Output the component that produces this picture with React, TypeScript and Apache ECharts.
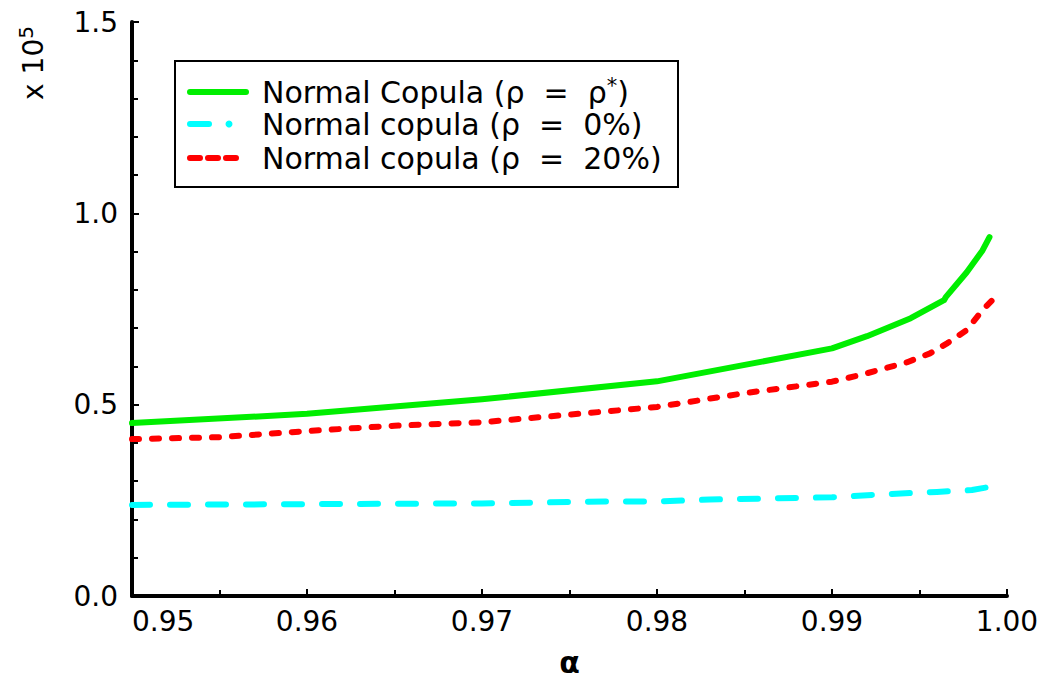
import React, { useEffect, useRef } from "react";
import * as echarts from "echarts";

// ---- data (values in units of 10^5) ----
const greenAlpha = [0.95, 0.96, 0.97, 0.98, 0.99, 0.992, 0.9945, 0.9964, 0.9965, 0.9977, 0.9986, 0.999];
const greenValue = [0.452, 0.476, 0.514, 0.561, 0.647, 0.679, 0.726, 0.773, 0.781, 0.846, 0.903, 0.938];

const cyanAlpha = [0.95, 0.96, 0.97, 0.977, 0.98, 0.983, 0.99, 0.993, 0.996, 0.998, 0.999];
const cyanValue = [0.238, 0.24, 0.242, 0.247, 0.247, 0.252, 0.258, 0.266, 0.272, 0.277, 0.285];

const redAlpha = [0.95, 0.955, 0.96, 0.965, 0.97, 0.975, 0.98, 0.985, 0.99, 0.992, 0.9943, 0.9956, 0.9966, 0.9977, 0.9986, 0.9992];
const redValue = [0.41, 0.415, 0.431, 0.445, 0.454, 0.474, 0.494, 0.53, 0.56, 0.582, 0.611, 0.634, 0.661, 0.695, 0.747, 0.775];

const seriesNames = ["Normal Copula (ρ = ρ*)", "Normal copula (ρ = 0%)", "Normal copula (ρ = 20%)"];
const seriesColors = ["#00ee00", "#00ffff", "#ff0000"];

const xMin = 0.95;
const xMax = 1.0;
const xInterval = 0.01;
const yMin = 0;
const yMax = 1.5;
const yInterval = 0.5;

const FONT = "DejaVu Sans";

function zip(a: number[], b: number[]) {
  return a.map((v, i) => [v, b[i]]);
}

export default function App() {
  const ref = useRef<HTMLDivElement>(null);
  useEffect(() => {
    if (!ref.current) return;
    const chart = echarts.init(ref.current, undefined, { renderer: "svg" });
    const legendRows = [92, 124, 158];
    const lx = 262;
    chart.setOption({
      animation: false,
      backgroundColor: "#ffffff",
      grid: { left: 132, top: 22, right: 42, bottom: 82, containLabel: false, outerBoundsMode: "none" },
      xAxis: {
        type: "value",
        min: xMin,
        max: xMax,
        interval: xInterval,
        name: "α",
        nameLocation: "middle",
        nameGap: 51,
        nameTextStyle: { fontSize: 30, fontWeight: "bold", color: "#000", fontFamily: FONT },
        axisLine: { show: true, lineStyle: { color: "#000", width: 4 } },
        axisTick: { show: true, inside: true, length: 7, lineStyle: { color: "#000", width: 2 } },
        minorTick: { show: true, splitNumber: 2, length: 6, lineStyle: { color: "#000", width: 2 } },
        splitLine: { show: false },
        minorSplitLine: { show: false },
        axisLabel: {
          fontSize: 28,
          color: "#000",
          fontFamily: FONT,
          margin: 11,
          alignMinLabel: "left",
          formatter: (v: number) => v.toFixed(2),
        },
      },
      yAxis: {
        type: "value",
        min: yMin,
        max: yMax,
        interval: yInterval,
        axisLine: { show: true, lineStyle: { color: "#000", width: 4 } },
        axisTick: { show: true, inside: true, length: 7, lineStyle: { color: "#000", width: 2 } },
        minorTick: { show: true, splitNumber: 5, length: 6, lineStyle: { color: "#000", width: 2 } },
        splitLine: { show: false },
        minorSplitLine: { show: false },
        axisLabel: {
          fontSize: 28,
          color: "#000",
          fontFamily: FONT,
          margin: 14,
          formatter: (v: number) => v.toFixed(1),
        },
      },
      series: [
        {
          name: seriesNames[0],
          type: "line",
          data: zip(greenAlpha, greenValue),
          showSymbol: false,
          symbol: "none",
          lineStyle: { color: seriesColors[0], width: 6, cap: "round", join: "round" },
        },
        {
          name: seriesNames[1],
          type: "line",
          data: zip(cyanAlpha, cyanValue),
          showSymbol: false,
          symbol: "none",
          lineStyle: { color: seriesColors[1], width: 6, type: [18, 20], cap: "round", join: "round" },
        },
        {
          name: seriesNames[2],
          type: "line",
          data: zip(redAlpha, redValue),
          showSymbol: false,
          symbol: "none",
          lineStyle: { color: seriesColors[2], width: 6, type: [7, 13], cap: "round", join: "round" },
        },
      ],
      graphic: [
        {
          type: "rect",
          shape: { x: 175, y: 61, width: 503, height: 126 },
          style: { fill: "#fff", stroke: "#000", lineWidth: 2 },
          z: 10,
        },
        {
          type: "line",
          shape: { x1: 190, y1: legendRows[0], x2: 246, y2: legendRows[0] },
          style: { stroke: seriesColors[0], lineWidth: 6, lineCap: "round" },
          z: 11,
        },
        {
          type: "line",
          shape: { x1: 190, y1: legendRows[1], x2: 209, y2: legendRows[1] },
          style: { stroke: seriesColors[1], lineWidth: 6, lineCap: "round" },
          z: 11,
        },
        {
          type: "circle",
          shape: { cx: 229, cy: legendRows[1], r: 3.5 },
          style: { fill: seriesColors[1] },
          z: 11,
        },
        {
          type: "line",
          shape: { x1: 190, y1: legendRows[2], x2: 240, y2: legendRows[2] },
          style: { stroke: seriesColors[2], lineWidth: 6, lineCap: "round", lineDash: [10, 8] },
          z: 11,
        },
        ...seriesNames.map((n, i) => ({
          type: "text",
          x: lx,
          y: legendRows[i],
          z: 11,
          style: {
            text: i === 0 ? "Normal Copula (ρ  =  ρ{s|*})" : n.replace(" = ", "  =  "),
            fontSize: 30,
            fontFamily: FONT,
            fill: "#000",
            verticalAlign: "middle",
            align: "left",
            rich: {
              s: { fontSize: 21, fontFamily: FONT, fill: "#000", padding: [0, 0, 12, 0] },
            },
          },
        })),
        {
          type: "text",
          x: 33,
          y: 63,
          rotation: Math.PI / 2,
          z: 11,
          style: {
            text: "x 10{s|5}",
            fontSize: 28,
            fontFamily: FONT,
            fill: "#000",
            align: "center",
            verticalAlign: "middle",
            rich: {
              s: { fontSize: 20, fontFamily: FONT, fill: "#000", padding: [0, 0, 15, 0] },
            },
          },
        },
      ],
    });
    return () => chart.dispose();
  }, []);
  return (
    <div
      ref={ref}
      style={{ position: "fixed", left: 0, top: 0, width: 1049, height: 678, background: "#fff" }}
    />
  );
}
